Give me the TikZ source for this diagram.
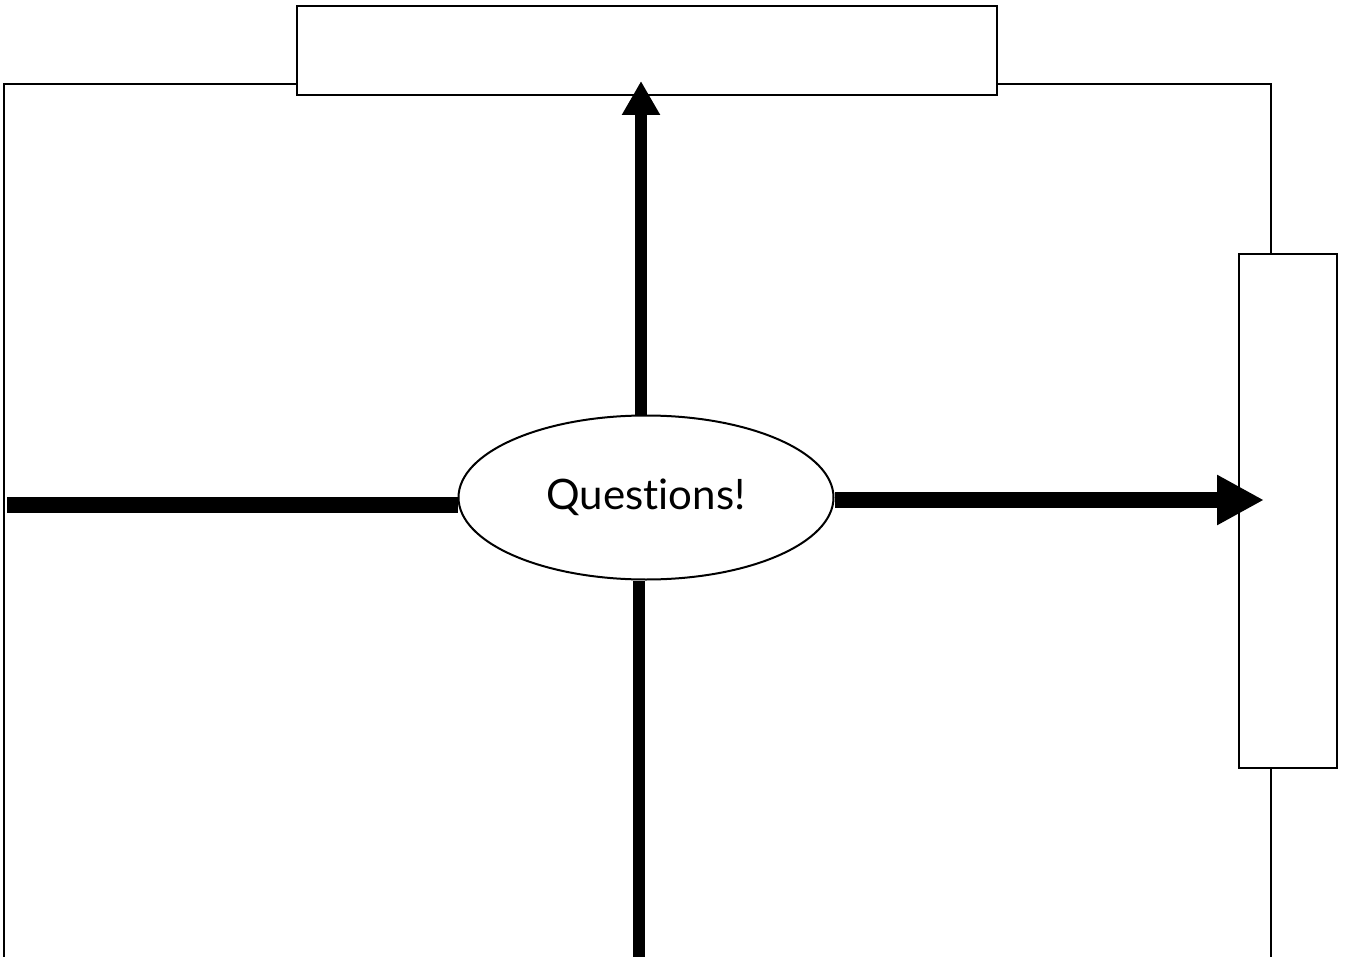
\documentclass[tikz,border=0pt]{standalone}
\usepackage{fontspec}
\setmainfont{Lato}[Ligatures={NoCommon}]
\usetikzlibrary{arrows.meta,shapes.geometric}

\begin{document}
\begin{tikzpicture}[x=1pt,y=-1pt,
	box/.style={draw,fill=white,line width=1.5pt,inner sep=0pt},
	spoke/.style={line width=12pt},
	thickspoke/.style={line width=16pt}]
	\useasboundingbox (0,0) rectangle (1346,957);
	% frame, open at the bottom
	\draw[line width=1.5pt] (4,975) -- (4,84) -- (1271,84) -- (1271,975);
	\node[box,minimum width=700pt,minimum height=89pt] (topbox) at (647,50.5) {};
	\node[box,minimum width=98pt,minimum height=514pt] (rightbox) at (1288,511) {};
	\node[ellipse,draw,fill=white,line width=2pt,inner sep=0pt,minimum width=375pt,minimum height=164pt,
		font=\fontsize{42}{50}\selectfont] (q) at (646,497.5) {Questions!};
	\coordinate (uptip) at (641,81);
	\coordinate (righttip) at (1264,500);
	\coordinate (leftend) at (7,505);
	\coordinate (downend) at (639,975);
	\draw[spoke,-{Triangle[length=34pt,width=36pt]}] (q.north -| uptip) -- (uptip);
	\draw[thickspoke,-{Triangle[length=47pt,width=47pt]}] (q.east |- righttip) -- (righttip);
	\draw[thickspoke] (q.west |- leftend) -- (leftend);
	\draw[spoke] (q.south -| downend) -- (downend);
\end{tikzpicture}
\end{document}
